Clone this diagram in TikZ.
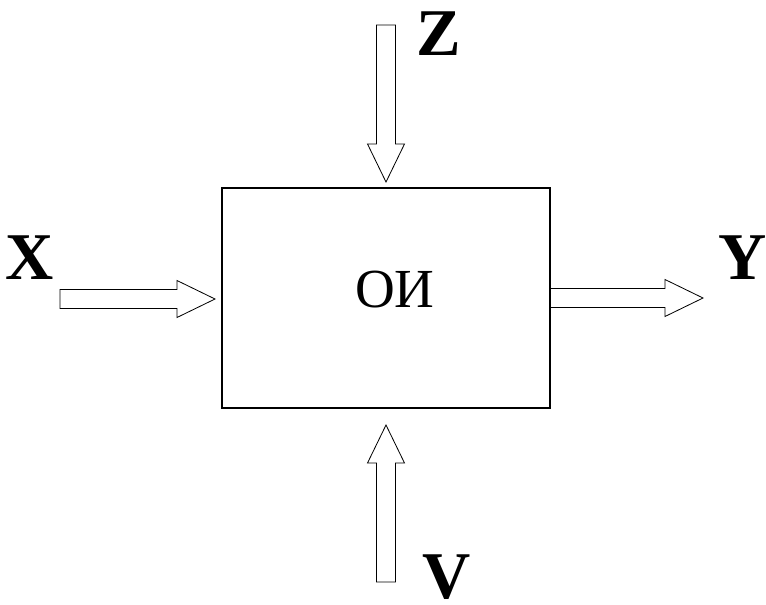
\documentclass[tikz,border=0pt]{standalone}
\usepackage{fontspec}
\setmainfont{Liberation Serif}
\usetikzlibrary{calc}

\begin{document}
\begin{tikzpicture}[x=0.03cm, y=-0.03cm,
    objbox/.style={draw, line width=0.9pt, minimum width=9.84cm, minimum height=6.6cm, inner sep=0pt},
    objname/.style={font=\fontsize{47}{50}\selectfont, inner sep=0pt},
    varname/.style={font=\fontsize{57}{60}\selectfont\bfseries, inner sep=0pt},
    blockarrow/.style={draw, line width=0.7pt, line join=miter, to path={
        let \p1=(\tikztostart), \p2=(\tikztotarget),
            \n1={atan2(\y2-\y1,\x2-\x1)}, \n2={veclen(\x2-\x1,\y2-\y1)-1.14cm}
        in ($(\p1)+(\n1+90:0.285cm)$)
        -- ($(\p1)+(\n1:\n2)+(\n1+90:0.285cm)$)
        -- ($(\p1)+(\n1:\n2)+(\n1+90:0.555cm)$)
        -- (\p2)
        -- ($(\p1)+(\n1:\n2)+(\n1-90:0.555cm)$)
        -- ($(\p1)+(\n1:\n2)+(\n1-90:0.285cm)$)
        -- ($(\p1)+(\n1-90:0.285cm)$) -- cycle}},
  ]
  \useasboundingbox (0,0) rectangle (766,604);

  % Object
  \node[objbox] (oi) at (386,298) {};
  \node[objname] (oiname) at (395,290) {ОИ};

  % Arrow ends
  \coordinate (xs) at (60,299);
  \coordinate (xe) at (215,299);
  \coordinate (ye) at (703,298);
  \coordinate (zs) at (386,25);
  \coordinate (ze) at (386,182);
  \coordinate (vs) at (386,582);
  \coordinate (ve) at (386,425);

  % Arrows
  \foreach \a/\b in {xs/xe, oi.east/ye, zs/ze, vs/ve}
    \draw[blockarrow] (\a) to (\b);

  % Variables
  \foreach \x/\y/\name in {30/258/X, 743/258/Y, 439/34/Z, 447/577/V}
    \node[varname] (var\name) at (\x,\y) {\name};
\end{tikzpicture}
\end{document}
